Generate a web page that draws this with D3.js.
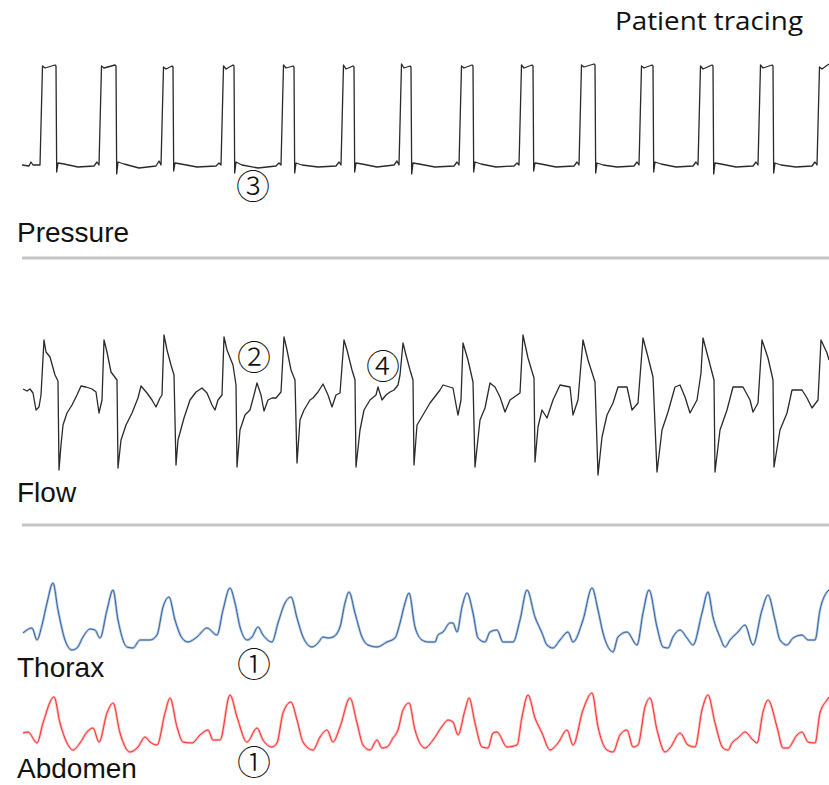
<!DOCTYPE html>
<html lang="en">
<head>
<meta charset="UTF-8">
<title>Patient tracing</title>
<script src="https://cdn.jsdelivr.net/npm/d3@7"></script>
<style>
    html, body { margin: 0; padding: 0; background: #fff; }
    svg { display: block; }
    .lbl { font-family: "Liberation Sans", Arial, sans-serif; fill: #111; }
    .mark { font-family: "Noto Sans CJK JP", "DejaVu Sans", sans-serif; fill: #111; }
</style>
</head>
<body>
<div id="chart"></div>
<script>
    // time in seconds, read off the tracing
    // pressure (cmH2O)
    const pressure = [
        [0, 5], [0.35, 4.8], [0.45, 5.6], [0.55, 5], [0.9, 5],
        [1.025, 24.8], [1.15, 24.4], [1.65, 25], [1.7, 24.8], [1.735, 3.6], [1.8, 5.4], [2.1, 5.2], [2.8, 4.6], [3.6, 4.8], [3.75, 5.6], [3.85, 5],
        [3.975, 24.8], [4.1, 24.4], [4.65, 25], [4.7, 24.8], [4.735, 3.2], [4.8, 5.6], [5.1, 5.2], [5.85, 4.4], [6.7, 4.8], [6.85, 5.8], [6.95, 5],
        [7.075, 24.6], [7.2, 24.2], [7.5, 24.8], [7.55, 24.6], [7.585, 3.8], [7.65, 5.4], [7.95, 5.2], [8.75, 4.6], [9.7, 4.8], [9.85, 5.4], [9.95, 5],
        [10.075, 24.8], [10.2, 24.2], [10.55, 25], [10.6, 24.8], [10.635, 3.4], [10.7, 5.6], [11.0, 5], [11.8, 4.4], [12.7, 4.8], [12.85, 5.4], [12.95, 5],
        [13.075, 25], [13.2, 24.4], [13.55, 24.8], [13.6, 24.6], [13.635, 3.4], [13.7, 5.4], [14.0, 5], [14.8, 4.6], [15.7, 4.8], [15.85, 5.6], [15.95, 5],
        [16.075, 25], [16.2, 24.2], [16.55, 24.8], [16.6, 24.6], [16.635, 3.6], [16.7, 5.4], [17.0, 5.2], [17.75, 4.6], [18.6, 5], [18.75, 5.8], [18.85, 5],
        [18.975, 25.2], [19.1, 24.4], [19.4, 24.8], [19.45, 24.6], [19.485, 3.2], [19.55, 5.4], [19.85, 5.2], [20.65, 4.6], [21.6, 4.8], [21.75, 5.6], [21.85, 5],
        [21.975, 24.8], [22.1, 24.4], [22.5, 25], [22.55, 24.8], [22.585, 3.6], [22.65, 5.6], [22.95, 5.2], [23.7, 4.6], [24.6, 4.8], [24.75, 5.4], [24.85, 5],
        [24.975, 25], [25.1, 24.4], [25.5, 25], [25.55, 24.8], [25.585, 3.8], [25.65, 5.4], [25.95, 5.2], [26.7, 4.6], [27.6, 4.8], [27.75, 5.6], [27.85, 5],
        [27.975, 25], [28.1, 24.6], [28.6, 25.2], [28.65, 25], [28.685, 3.4], [28.75, 5.4], [29.05, 5], [29.75, 4.6], [30.6, 4.8], [30.75, 5.6], [30.85, 5],
        [30.975, 24.8], [31.1, 24.4], [31.5, 25], [31.55, 24.8], [31.585, 3.6], [31.65, 5.6], [31.95, 5.2], [32.7, 4.6], [33.55, 4.8], [33.7, 5.6], [33.8, 5],
        [33.925, 24.8], [34.05, 24.2], [34.5, 25], [34.55, 24.8], [34.585, 3.2], [34.65, 5.4], [34.95, 5.2], [35.7, 4.6], [36.55, 4.8], [36.7, 5.6], [36.8, 5],
        [36.925, 25], [37.05, 24.4], [37.5, 25], [37.55, 24.8], [37.585, 3.4], [37.65, 5.4], [37.95, 5], [38.7, 4.6], [39.5, 4.8], [39.65, 5.6], [39.75, 5],
        [39.875, 24.6], [40.0, 24.2], [40.35, 25.2]
    ];

    // flow (L/min)
    const flow = [
        [0.05, 3], [0.25, 2], [0.4, 3], [0.55, 1], [0.7, -7.5], [0.85, -6], [0.95, 0], [1.1, 27.5],
        [1.2, 21.5], [1.4, 19], [1.65, 10], [1.8, 7], [1.85, -37.5], [1.95, -25], [2.05, -15], [2.25, -9], [2.5, -5], [2.75, 0], [2.95, 4.5], [3.2, 4], [3.5, 3], [3.7, 1.5], [3.85, -9], [4.0, -2.5], [4.1, 27.5],
        [4.25, 21.5], [4.45, 11.5], [4.75, 7.5], [4.8, -36.5], [4.95, -22.5], [5.2, -15], [5.5, -9], [5.8, -1.5], [5.95, 4.5], [6.25, 1], [6.5, -2.5], [6.7, -6], [6.9, -1.5], [7.0, 0], [7.1, 30],
        [7.25, 22.5], [7.45, 15], [7.6, 10], [7.7, -35], [7.8, -22.5], [8.1, -11.5], [8.4, -2.5], [8.7, 1.5], [9.0, 3.5], [9.25, 1], [9.5, -5], [9.65, -7.5], [9.8, -2.5], [10.0, 0], [10.1, 29],
        [10.25, 22.5], [10.55, 15], [10.7, 5], [10.75, -36], [10.9, -17.5], [11.15, -10], [11.4, -7.5], [11.6, 0], [11.75, 6], [11.95, 0], [12.1, -8], [12.3, -2.5], [12.5, -1.5], [12.7, -1.5], [12.95, 1.5], [13.1, 29],
        [13.25, 22.5], [13.45, 12.5], [13.65, 7.5], [13.75, -34], [13.9, -12.5], [14.1, -7.5], [14.25, -5], [14.4, -2.5], [14.55, -1.5], [14.8, 1.5], [15.05, 5.5], [15.3, 0], [15.5, -6], [15.7, 0], [15.9, 1], [16.1, 27.5],
        [16.25, 22.5], [16.5, 12.5], [16.65, 7.5], [16.7, -36], [16.9, -17.5], [17.1, -7.5], [17.4, -2.5], [17.7, 0], [17.8, 4], [18.0, -2.5], [18.2, 0], [18.4, 1.5], [18.6, 2.5], [18.8, 5], [18.9, 10], [19.05, 26],
        [19.2, 20], [19.4, 12.5], [19.55, 7.5], [19.6, -35], [19.75, -15], [19.9, -12.5], [20.4, -4], [20.9, 2.5], [21.05, 5], [21.55, 3.5], [21.75, -7.5], [21.8, -10], [21.95, -2.5], [22.05, 26],
        [22.3, 17.5], [22.55, 6.5], [22.65, -36], [22.9, -12.5], [23.15, -6.5], [23.4, 6], [23.65, 4], [23.9, -1], [24.15, -8.5], [24.4, -2.5], [24.9, 1], [25.05, 30],
        [25.3, 18.5], [25.6, 8.5], [25.65, -33.5], [25.8, -16], [26.0, -7.5], [26.25, -11.5], [26.55, -2.5], [26.9, 5], [27.4, 4], [27.55, -10], [27.8, -2.5], [28.05, 27.5],
        [28.3, 17.5], [28.65, 6.5], [28.8, -40], [29.0, -21], [29.25, -10], [29.55, -4], [29.8, 4], [30.25, 4], [30.5, -7.5], [30.8, -4], [31.05, 28.5],
        [31.3, 19], [31.55, 9], [31.75, -38.5], [32.0, -17.5], [32.3, -8.5], [32.65, 4], [32.9, 5], [33.15, -1], [33.4, -9], [33.75, -2.5], [33.95, 11], [34.05, 28.5],
        [34.3, 19], [34.6, 7.5], [34.65, -38.5], [34.9, -17.5], [35.25, -7.5], [35.55, 4], [36.05, 4], [36.4, -2.5], [36.55, -8.5], [36.8, -4], [37.0, 27.5],
        [37.3, 18.5], [37.55, 7.5], [37.6, -36], [37.9, -17.5], [38.25, -9], [38.5, 2.5], [39.0, 2.5], [39.25, -1.5], [39.5, -6.5], [39.8, -2.5], [39.95, 27.5], [40.25, 21], [40.35, 17.5]
    ];

    // thorax belt (a.u.)
    const thorax = [
        [0.05, 11], [0.5, 13.5], [0.75, 7.5], [1.0, 15], [1.25, 26], [1.55, 36], [1.8, 22.5], [2.15, 7.5], [2.5, 2.5], [2.75, 3.5],
        [3.05, 9], [3.4, 13], [3.65, 12.5], [3.9, 8.5], [4.25, 22.5], [4.55, 32.5], [4.8, 17.5], [5.25, 4], [5.55, 3.5], [5.9, 7.5],
        [6.4, 7.5], [6.75, 10], [7.05, 24], [7.35, 29], [7.65, 17.5], [8.0, 8.5], [8.3, 6.5], [8.75, 9], [9.25, 13.5], [9.75, 10],
        [10.05, 22.5], [10.4, 33.5], [10.65, 26], [10.9, 14], [11.25, 7.5], [11.5, 9], [11.8, 14], [12.05, 10], [12.5, 6.5], [12.8, 16],
        [13.15, 26], [13.45, 29], [13.75, 18.5], [14.05, 9], [14.5, 4], [14.8, 6], [15.05, 9], [15.3, 8.5], [15.55, 9], [15.9, 14],
        [16.15, 26], [16.35, 31.5], [16.65, 21], [17.0, 9], [17.3, 5], [17.75, 4], [18.25, 6.5], [18.65, 8.5], [18.9, 16], [19.15, 26],
        [19.35, 31], [19.65, 14], [20.0, 7.5], [20.3, 6.5], [20.65, 6.5], [20.8, 10], [21.05, 11.5], [21.4, 16], [21.55, 16], [21.75, 11.5],
        [22.0, 24], [22.25, 31], [22.55, 21], [22.8, 8.5], [23.15, 6.5], [23.4, 11.5], [23.75, 12.5], [24.05, 6.5], [24.55, 6.5], [24.9, 17.5],
        [25.25, 32.5], [25.65, 19], [26.0, 11], [26.25, 5], [26.55, 3.5], [26.9, 7.5], [27.3, 11.5], [27.55, 6.5], [28.05, 17.5], [28.5, 33.5],
        [28.8, 22.5], [29.05, 11], [29.4, 2.5], [29.55, 1.5], [29.8, 9], [30.25, 11.5], [30.75, 5], [31.05, 21], [31.35, 32.5], [31.75, 14],
        [32.05, 4], [32.3, 3.5], [32.55, 9], [32.9, 12.5], [33.25, 8.5], [33.55, 5], [34.0, 21], [34.3, 31.5], [34.55, 19], [34.9, 9],
        [35.15, 4], [35.4, 7.5], [35.8, 11.5], [36.15, 15], [36.55, 5], [37.0, 22.5], [37.3, 30], [37.65, 17.5], [37.9, 7.5], [38.25, 5],
        [38.55, 8.5], [39.0, 10], [39.3, 7.5], [39.65, 7.5], [39.9, 22.5], [40.25, 31.5], [40.35, 32.5]
    ];

    // abdomen belt (a.u.)
    const abdomen = [
        [0.05, 11], [0.3, 11.5], [0.75, 6], [1.05, 16], [1.6, 29], [1.9, 16], [2.25, 6], [2.55, 2.5], [2.9, 6], [3.25, 11.5],
        [3.55, 13.5], [3.85, 6.5], [4.25, 21], [4.55, 26], [4.9, 11], [5.4, 1.5], [5.8, 4], [6.15, 9], [6.4, 6.5], [6.75, 5],
        [7.15, 21], [7.4, 28.5], [7.75, 14], [8.05, 6.5], [8.5, 6], [8.9, 10], [9.3, 12.5], [9.55, 7.5], [9.9, 7.5], [10.4, 30],
        [10.75, 19], [11.25, 6.5], [11.75, 13.5], [12.05, 7.5], [12.5, 4], [12.75, 6], [13.05, 21], [13.45, 26.5], [13.75, 17.5], [14.05, 6.5],
        [14.55, 2.5], [14.9, 9], [15.25, 12.5], [15.55, 6.5], [15.9, 14], [16.4, 28.5], [16.75, 16], [17.05, 5], [17.4, 2.5], [17.75, 7.5],
        [18.0, 3.5], [18.25, 4], [18.55, 8.5], [18.8, 12.5], [19.05, 22.5], [19.35, 26], [19.65, 12.5], [20.15, 3.5], [20.55, 7.5], [21.05, 15],
        [21.3, 17.5], [21.55, 16.5], [21.8, 10], [22.15, 22.5], [22.35, 28.5], [22.65, 16], [23.0, 4], [23.3, 3.5], [23.55, 11], [23.75, 11.5],
        [24.25, 4], [24.75, 5], [25.0, 19], [25.3, 30], [25.65, 18.5], [26.0, 11], [26.4, 2.5], [26.8, 6], [27.25, 12.5], [27.55, 5],
        [28.05, 22.5], [28.5, 31], [28.8, 14], [29.25, 2.5], [29.55, 1.5], [29.9, 10], [30.25, 12.5], [30.55, 4], [30.8, 5], [31.15, 24],
        [31.4, 28.5], [31.75, 12.5], [32.15, 1.5], [32.4, 3.5], [32.9, 11], [33.3, 5], [33.65, 4], [34.0, 22.5], [34.3, 30], [34.65, 16],
        [35.05, 3.5], [35.3, 2.5], [35.5, 6], [35.8, 8.5], [36.15, 11.5], [36.55, 7.5], [36.75, 6], [37.05, 21.5], [37.3, 27.5], [37.75, 14],
        [38.05, 3.5], [38.3, 3.5], [38.75, 10], [39.0, 11.5], [39.3, 6.5], [39.65, 6], [39.9, 21], [40.25, 27.5], [40.35, 29]
    ];

    const channelNames = ['Pressure', 'Flow', 'Thorax', 'Abdomen'];
    const markTexts = ['\u2462', '\u2461', '\u2463', '\u2460', '\u2460'];
    const markTimes = [11.55, 11.6, 18.05, 11.6, 11.6];
    const title = 'Patient tracing';

    const width = 829, height = 785;
    const svg = d3.select('#chart').append('svg').attr('width', width).attr('height', height);

    const x = d3.scaleLinear().domain([0, 40.35]).range([22, 829]);
    const yPressure = d3.scaleLinear().domain([5, 25]).range([165, 65]);
    const yFlow = d3.scaleLinear().domain([0, 30]).range([395, 335]);
    const yThorax = d3.scaleLinear().domain([0, 30]).range([655, 595]);
    const yAbdomen = d3.scaleLinear().domain([0, 30]).range([755, 695]);

    const drawTrace = (data, y, color, halo, curve) => {
        const line = d3.line().x(d => x(d[0])).y(d => y(d[1])).curve(curve);
        if (halo) {
            svg.append('path').datum(data)
                .attr('fill', 'none').attr('stroke', halo).attr('stroke-width', 2.6)
                .attr('stroke-linejoin', 'round').attr('d', line);
        }
        svg.append('path').datum(data)
            .attr('fill', 'none').attr('stroke', color).attr('stroke-width', halo ? 1 : 1.3)
            .attr('stroke-linejoin', 'round').attr('d', line);
    }

    drawTrace(pressure, yPressure, '#2a2a2a', null, d3.curveLinear);
    drawTrace(flow, yFlow, '#2a2a2a', null, d3.curveLinear);
    drawTrace(thorax, yThorax, '#2f609f', '#b3c7e0', d3.curveMonotoneX);
    drawTrace(abdomen, yAbdomen, '#ff2a2a', '#ffb8b8', d3.curveMonotoneX);

    // separators between the panels
    [258, 525].forEach(yy => {
        svg.append('line')
            .attr('x1', 22).attr('x2', width).attr('y1', yy).attr('y2', yy)
            .attr('stroke', '#c4c4c4').attr('stroke-width', 3);
    });

    // channel labels
    const labelY = [242, 502, 677, 778];
    svg.selectAll('text.lbl').data(channelNames).enter().append('text')
        .classed('lbl', true)
        .attr('x', 17)
        .attr('y', (d, i) => labelY[i])
        .attr('font-size', 28)
        .text(d => d);

    // circled annotations
    const markY = [199, 370, 379, 677, 775];
    svg.selectAll('text.mark').data(markTexts).enter().append('text')
        .classed('mark', true)
        .attr('x', (d, i) => x(markTimes[i]))
        .attr('y', (d, i) => markY[i])
        .attr('text-anchor', 'middle')
        .attr('font-size', 34)
        .attr('font-weight', 300)
        .text(d => d);

    svg.append('text')
        .attr('x', 803).attr('y', 30)
        .attr('text-anchor', 'end')
        .attr('font-family', '"Open Sans", sans-serif')
        .attr('font-size', 25)
        .attr('textLength', 188)
        .attr('lengthAdjust', 'spacingAndGlyphs')
        .attr('fill', '#111')
        .text(title);
</script>
</body>
</html>
